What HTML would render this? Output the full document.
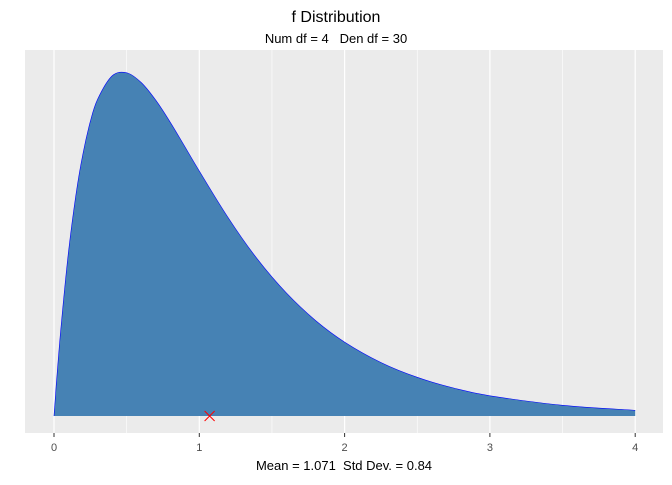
<!DOCTYPE html>
<html><head><meta charset="utf-8"><style>
body{margin:0;background:#fff;font-family:"Liberation Sans",Arial,sans-serif}
</style></head><body>
<svg id="chart" width="672" height="480" xmlns="http://www.w3.org/2000/svg">
<rect x="0" y="0" width="672" height="480" fill="#fff"/>
<rect x="25" y="50" width="638" height="383" fill="#EBEBEB"/>
<g id="grid"></g>
<g id="marks"></g>
<g id="ticks"></g>
<text x="336" y="22" text-anchor="middle" font-size="16" fill="#000">f Distribution</text>
<text x="336" y="43" text-anchor="middle" font-size="13" fill="#000">Num df = 4&#160;&#160; Den df = 30</text>
<text x="344" y="470" text-anchor="middle" font-size="13" fill="#000">Mean = 1.071&#160; Std Dev. = 0.84</text>
</svg>
<script>
const xs=[0,0.01,0.02,0.05,0.1,0.15,0.2,0.25,0.3,0.4,0.5,0.6,0.7,0.8,0.9,1.0,1.2,1.4,1.6,1.8,2.0,2.25,2.5,2.75,3.0,3.5,4.0];
const dens=[0,0.0417,0.0816,0.1906,0.3407,0.4571,0.5455,0.6109,0.6571,0.7056,0.7121,0.6920,0.6553,0.6096,0.5591,0.5082,0.4107,0.3256,0.2550,0.1982,0.1534,0.1110,0.0802,0.0580,0.0420,0.0222,0.0119];
const tickVals=[0,1,2,3,4];
const tickLabels=["0","1","2","3","4"];
const meanVal=1.071;
const NS="http://www.w3.org/2000/svg";
const sx=v=>54+v*145.3;
const sy=v=>416-v*482;
const grid=document.getElementById('grid'),marks=document.getElementById('marks'),ticks=document.getElementById('ticks');
function mk(t,a,p){const e=document.createElementNS(NS,t);for(const k in a)e.setAttribute(k,a[k]);p.appendChild(e);return e;}
for(let v=0.5;v<4;v+=1){const l=mk('line',{x1:sx(v),x2:sx(v),y1:50,y2:433,stroke:'#fff','stroke-width':0.6},grid);

}
tickVals.forEach((v,i)=>{const l=mk('line',{x1:sx(v),x2:sx(v),y1:50,y2:433,stroke:'#fff','stroke-width':1.2},grid);


const t=mk('line',{x1:sx(v),x2:sx(v),y1:433,y2:437,stroke:'#333','stroke-width':1},ticks);


const tx=mk('text',{x:sx(v),y:451,'text-anchor':'middle','font-size':11,fill:'#4D4D4D'},ticks);
tx.textContent=tickLabels[i];

});
const P=xs.map((x,i)=>[sx(x),sy(dens[i])]);
let curve='';
for(let i=0;i<P.length-1;i++){
 const p0=P[Math.max(0,i-1)],p1=P[i],p2=P[i+1],p3=P[Math.min(P.length-1,i+2)];
 const c1=[p1[0]+(p2[0]-p0[0])/6,p1[1]+(p2[1]-p0[1])/6];
 const c2=[p2[0]-(p3[0]-p1[0])/6,p2[1]-(p3[1]-p1[1])/6];
 curve+=` C${c1[0].toFixed(1)},${c1[1].toFixed(1)} ${c2[0].toFixed(1)},${c2[1].toFixed(1)} ${p2[0].toFixed(1)},${p2[1].toFixed(1)}`;
}
const start=`M${P[0][0]},${P[0][1]}`;
const area=mk('path',{d:start+curve+` L${P[P.length-1][0]},${sy(0)} Z`,fill:'#4682B4',stroke:'none'},marks);


const ln=mk('path',{d:start+curve,fill:'none',stroke:'#0000FF','stroke-width':0.6},marks);


const mx=sx(meanVal),my=sy(0);
const m=mk('path',{d:`M${mx-5},${my-5} L${mx+5},${my+5} M${mx-5},${my+5} L${mx+5},${my-5}`,stroke:'#FF0000','stroke-width':1},marks);


</script>
</body></html>
